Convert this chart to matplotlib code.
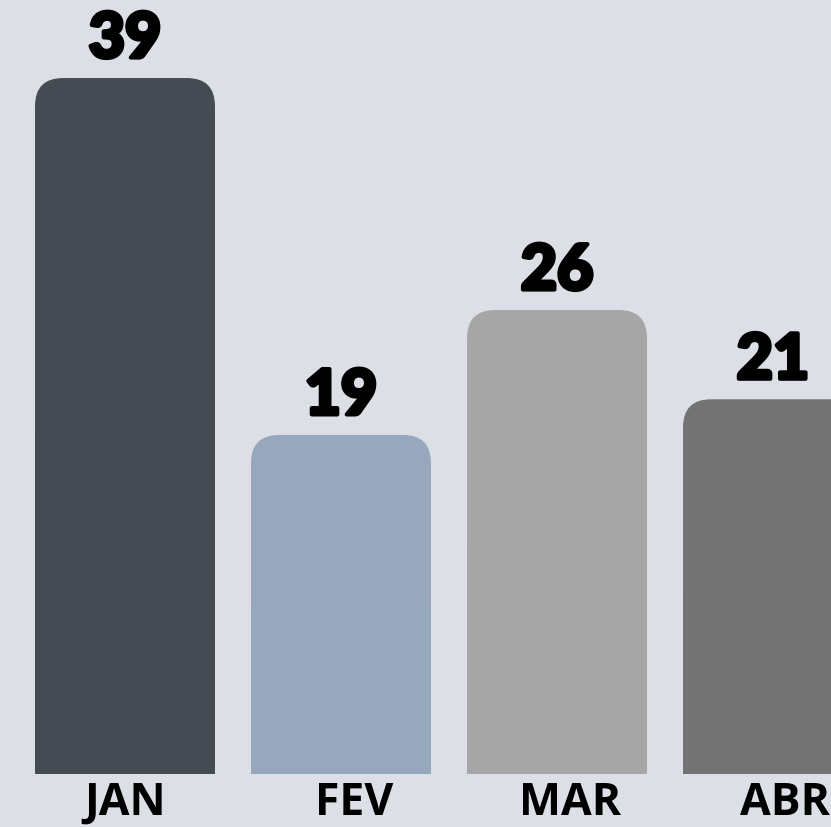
import matplotlib
matplotlib.use("Agg")
import matplotlib.pyplot as plt
import matplotlib.patheffects as pe
from matplotlib.patches import FancyBboxPatch, Rectangle

# data
months = ["JAN", "FEV", "MAR", "ABR"]
values = [39, 19, 26, 21]
colors = ["#444b53", "#97a7bd", "#a6a6a6", "#737373"]
bg = "#dcdfe6"

fig = plt.figure(figsize=(8.31, 8.28), dpi=100, facecolor=bg)
ax = fig.add_axes([0, 0, 1, 1])
ax.set_facecolor(bg)
ax.set_xlim(-0.5787, 3.2685)
ax.set_ylim(-2.97, 43.43)
ax.axis("off")

width = 0.833
r = 0.13
# aspect so rounding looks circular on screen
asp = (43.43 + 2.97) / 828 / ((3.2685 + 0.5787) / 831)
label_shift = [0.0, 0.06, 0.06, 0.055]

for i, (m, v, c) in enumerate(zip(months, values, colors)):
    x0 = i - width / 2
    # rounded top
    ax.add_patch(FancyBboxPatch((x0, 0), width, v,
                                boxstyle=f"round,pad=0,rounding_size={r}",
                                mutation_aspect=asp, fc=c, ec="none"))
    # square off the bottom corners
    ax.add_patch(Rectangle((x0, 0), width, v / 2, fc=c, ec="none"))
    ax.text(i, v + 1.15, str(v), ha="center", va="baseline",
            fontsize=45, fontweight="black", family="Lato", color="black",
            path_effects=[pe.withStroke(linewidth=3, foreground="black")])
    ax.text(i + label_shift[i], -1.6, m, ha="center", va="center",
            fontsize=32, fontweight="bold", family="Open Sans", color="black")

fig.savefig("out.png", dpi=100, facecolor=bg)
